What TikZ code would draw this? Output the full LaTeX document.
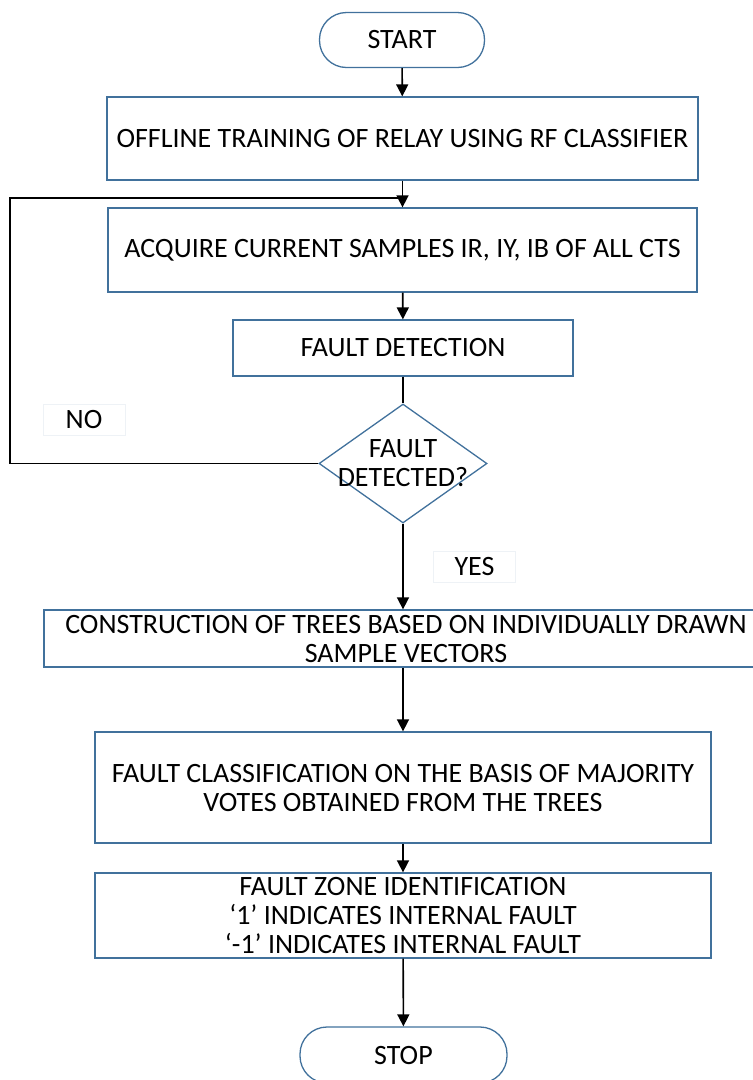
\documentclass[tikz,border=0pt]{standalone}
\usepackage{fontspec}
\setmainfont{Carlito}
\usetikzlibrary{shapes.geometric,positioning,arrows.meta}
\definecolor{boxblue}{HTML}{41719C}
\definecolor{tagline}{HTML}{EEF2F6}

\begin{document}
\begin{tikzpicture}[
x=1pt, y=-1pt,
every node/.style={font=\fontsize{28}{29}\selectfont, text=black},
term/.style={
  draw=boxblue,
  line width=1.3pt,
  rounded corners=27pt,
  minimum width=165pt,
  minimum height=55pt
  },
proc/.style={
  draw=boxblue,
  line width=1.3pt,
  align=center,
  inner sep=0pt
  },
query/.style={
  draw=boxblue,
  line width=1.3pt,
  diamond,
  aspect=1.41,
  minimum width=168pt,
  minimum height=119pt,
  inner sep=0pt
  },
tag/.style={
  draw=tagline,
  line width=1pt,
  minimum width=82pt,
  minimum height=31pt
  },
link/.style={
  line width=1.6pt
  },
>={Triangle[length=12pt,width=12pt]}
]
\useasboundingbox (0,0) rectangle (753,1080);

% steps of the relay
\node[term] (start) at (402,40) {START};
\node[proc, minimum width=591pt, minimum height=83pt] (train) at (402.5,138.5)
  {OFFLINE TRAINING OF RELAY USING RF CLASSIFIER};
\node[proc, minimum width=589pt, minimum height=84pt] (acq) at (402.5,250)
  {ACQUIRE CURRENT SAMPLES IR, IY, IB OF ALL CTS};
\node[proc, minimum width=340pt, minimum height=56pt] (det) at (403,348)
  {FAULT DETECTION};
\node[query, label={[align=center]center:FAULT\\DETECTED?}] (dec) at (403,463.5) {};
\node[proc, minimum width=724pt, minimum height=57pt] (trees) at (406,638.5)
  {CONSTRUCTION OF TREES BASED ON INDIVIDUALLY DRAWN\\SAMPLE VECTORS};
\node[proc, minimum width=616pt, minimum height=111pt] (vote) at (403,787.5)
  {FAULT CLASSIFICATION ON THE BASIS OF MAJORITY\\VOTES OBTAINED FROM THE TREES};
\node[proc, minimum width=616pt, minimum height=85pt] (zone) at (403,915.5)
  {FAULT ZONE IDENTIFICATION\\‘1’ INDICATES INTERNAL FAULT\\‘-1’ INDICATES INTERNAL FAULT};
\node[term, minimum width=207pt, minimum height=56pt] (stop) at (403.5,1055) {STOP};

% answer tags
\node[tag] (no) at (84,420) {NO};
\node[tag] (yes) at (474.5,567) {YES};

% connectors
\coordinate (back) at (10,198);
\draw[link,->] (start) -- (train);
\draw[link,->] (train) -- (acq);
\draw[link] (dec.west) -| (back) -- (acq.north |- back);
\draw[link,->] (acq) -- (det);
\draw[link] (det) -- (dec);
\draw[link,->] (dec.south) -- (dec.south |- trees.north);
\draw[link,->] (dec.south |- trees.south) -- (dec.south |- vote.north);
\draw[link,->] (vote) -- (zone);
\draw[link,->] (zone) -- (stop);
\end{tikzpicture}
\end{document}
